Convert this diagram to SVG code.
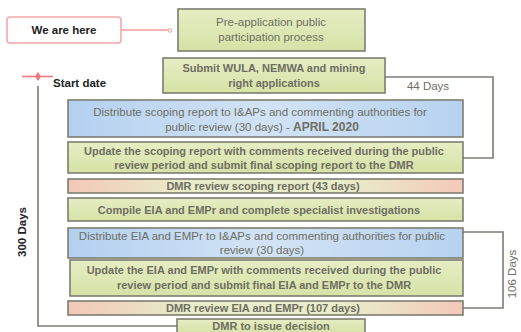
<svg xmlns="http://www.w3.org/2000/svg" width="521" height="332" viewBox="0 0 521 332">
<defs>
<linearGradient id="gGreen" x1="0" y1="0" x2="0" y2="1"><stop offset="0" stop-color="#e6edc4"/><stop offset="1" stop-color="#d6e2a6"/></linearGradient>
<linearGradient id="gBlue" x1="0" y1="0" x2="1" y2="0"><stop offset="0" stop-color="#b4d0f0"/><stop offset="0.5" stop-color="#d2e3f5"/><stop offset="1" stop-color="#b7d2f0"/></linearGradient>
<linearGradient id="gPeach" x1="0" y1="0" x2="1" y2="0"><stop offset="0" stop-color="#f3c8b8"/><stop offset="0.3" stop-color="#e9ecc8"/><stop offset="0.7" stop-color="#e9ecc8"/><stop offset="1" stop-color="#f4c9ba"/></linearGradient>
</defs>
<style>
.box{stroke:#7d7d70;stroke-width:1.6}
.g{fill:url(#gGreen)}
.b{fill:url(#gBlue)}
.p{fill:url(#gPeach)}
.t{font-family:"Liberation Sans",Arial,sans-serif;font-size:11.5px;fill:#6e6e62;text-anchor:middle}
.tb{font-weight:bold;font-size:11px}
.lbl{font-family:"Liberation Sans",Arial,sans-serif;font-weight:bold;fill:#222}
.conn{fill:none;stroke:#7d7d75;stroke-width:1.6}
</style>
<rect width="521" height="332" fill="#ffffff"/>
<g id="connectors">
<path class="conn" d="M385,77 H493 V158 H463"/>
<path class="conn" d="M463,232 H503 V308 H463"/>
<path class="conn" d="M38,86 V326 H177"/>
<path d="M121,30 H169" fill="none" stroke="#f29a9a" stroke-width="1.4"/>
<circle cx="170" cy="30.5" r="1.8" fill="#fff" stroke="#f29a9a" stroke-width="1"/>
<path d="M22,76.5 H53" stroke="#f07a7a" stroke-width="1.6"/>
<path d="M38,72 L41,76.5 L38,81 L35,76.5 Z" fill="#f07a7a"/>
</g>
<g id="we-are-here">
<rect x="7" y="17" width="114" height="26" rx="3" fill="#fff" stroke="#f4a7a7" stroke-width="1.6"/>
<text class="lbl" x="64" y="34" font-size="11.5" text-anchor="middle">We are here</text>
</g>
<g id="start-date"><text class="lbl" x="53" y="87" font-size="11.5">Start date</text></g>
<g id="label-44"><text class="t" x="428" y="90" font-size="10.5" fill="#555">44 Days</text></g>
<g id="label-300"><text class="lbl" transform="translate(26,232) rotate(-90)" font-size="11.5" text-anchor="middle">300 Days</text></g>
<g id="label-106"><text class="t" transform="translate(516,274) rotate(-90)" font-size="10.5" fill="#555">106 Days</text></g>
<g id="n1">
<rect class="box g" x="178" y="9" width="187" height="42"/>
<text class="t" x="271" y="26" font-size="12">Pre-application public</text>
<text class="t" x="271" y="41" font-size="12">participation process</text>
</g>
<g id="n2">
<rect class="box g" x="163" y="58" width="222" height="35"/>
<text class="t tb" x="274" y="72" font-size="11.5">Submit WULA, NEMWA and mining</text>
<text class="t tb" x="274" y="87" font-size="11.5">right applications</text>
</g>
<g id="n3">
<rect class="box b" x="68" y="100" width="395" height="37"/>
<text class="t" x="260" y="116">Distribute scoping report to I&amp;APs and commenting authorities for</text>
<text class="t" x="262" y="131">public review (30 days) - <tspan font-weight="bold" font-size="12">APRIL 2020</tspan></text>
</g>
<g id="n4">
<rect class="box g" x="68" y="142" width="395" height="31"/>
<text class="t tb" x="264" y="155">Update the scoping report with comments received during the public</text>
<text class="t tb" x="264" y="169">review period and submit final scoping report to the DMR</text>
</g>
<g id="n5">
<rect class="box p" x="68" y="179" width="395" height="14"/>
<text class="t tb" x="263" y="190">DMR review scoping report (43 days)</text>
</g>
<g id="n6">
<rect class="box g" x="68" y="198" width="395" height="23"/>
<text class="t tb" x="259" y="214">Compile EIA and EMPr and complete specialist investigations</text>
</g>
<g id="n7">
<rect class="box b" x="68" y="228" width="395" height="30"/>
<text class="t" x="262" y="240">Distribute EIA and EMPr to I&amp;APs and commenting authorities for public</text>
<text class="t" x="262" y="254">review (30 days)</text>
</g>
<g id="n8">
<rect class="box g" x="70" y="260" width="393" height="36"/>
<text class="t tb" x="264" y="274">Update the EIA and EMPr with comments received during the public</text>
<text class="t tb" x="264" y="289">review period and submit final EIA and EMPr to the DMR</text>
</g>
<g id="n9">
<rect class="box p" x="68" y="301" width="395" height="14"/>
<text class="t tb" x="263" y="312">DMR review EIA and EMPr (107 days)</text>
</g>
<g id="n10">
<rect class="box g" x="177" y="319" width="188" height="14"/>
<text class="t tb" x="271" y="330">DMR to issue decision</text>
</g>
</svg>
